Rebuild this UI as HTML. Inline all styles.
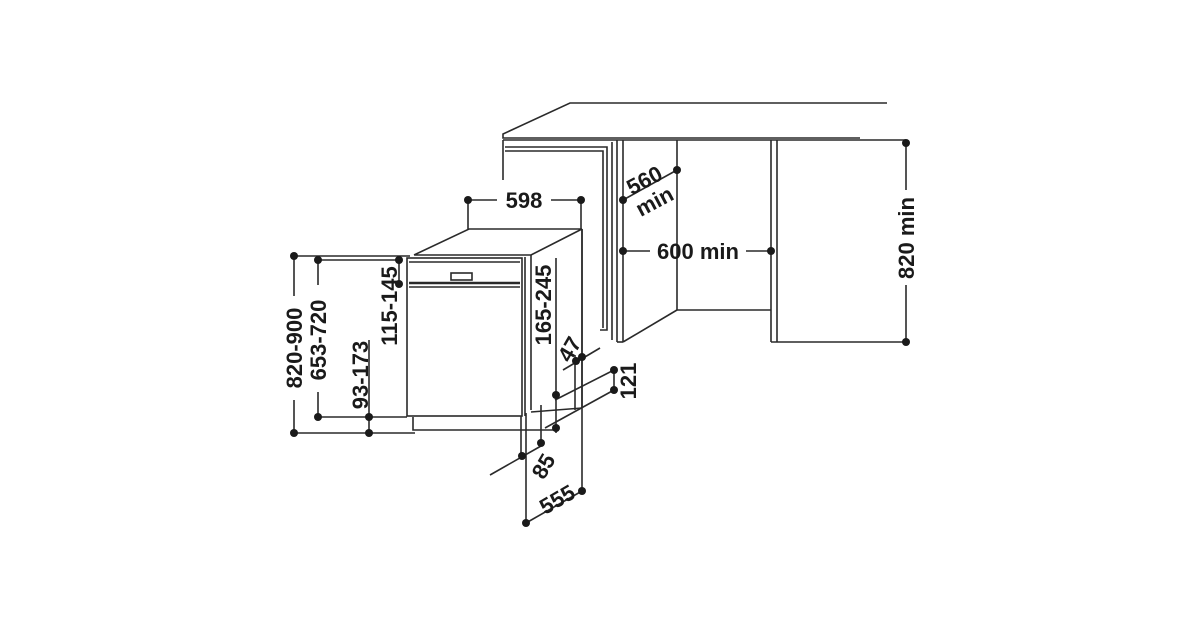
<!DOCTYPE html>
<html><head><meta charset="utf-8"><style>html,body{margin:0;background:#fff}svg{display:block}</style></head>
<body>
<svg width="1200" height="630" viewBox="0 0 1200 630" xmlns="http://www.w3.org/2000/svg">
<rect width="1200" height="630" fill="#fff"/>
<g stroke="#2a2a2a" stroke-width="1.6" fill="none">
<polyline points="887,103 570,103 503,134 503,138 860,138"/>
<line x1="503" y1="140" x2="906" y2="140"/>
<line x1="503" y1="140" x2="503" y2="180"/>
<polyline points="505,147 607,147 607,330 600,330"/>
<polyline points="505,151 603,151 603,328"/>
<line x1="612" y1="142" x2="612" y2="340"/>
<line x1="617" y1="140" x2="617" y2="342"/>
<line x1="623" y1="140" x2="623" y2="342"/>
<line x1="617" y1="342" x2="623" y2="342"/>
<line x1="677" y1="140" x2="677" y2="310"/>
<line x1="677" y1="310" x2="623" y2="342"/>
<line x1="677" y1="310" x2="771" y2="310"/>
<line x1="771" y1="140" x2="771" y2="342"/>
<line x1="777" y1="140" x2="777" y2="342"/>
<line x1="771" y1="342" x2="906" y2="342"/>
<line x1="906" y1="143" x2="906" y2="190"/>
<line x1="906" y1="285" x2="906" y2="342"/>
<line x1="623" y1="251" x2="650" y2="251"/>
<line x1="746" y1="251" x2="771" y2="251"/>
<line x1="623" y1="200" x2="677" y2="170"/>
<polyline points="414,255 469,229 582,229 531,255 414,255"/>
<line x1="582" y1="229" x2="582" y2="408"/>
<line x1="531" y1="255" x2="531" y2="410"/>
<line x1="525" y1="257" x2="525" y2="416"/>
<line x1="582" y1="408" x2="531" y2="412"/>
<rect x="407" y="258" width="115" height="158"/>
<line x1="409" y1="262" x2="520" y2="262"/>
<line x1="409" y1="283" x2="520" y2="283" stroke-width="2.5"/>
<line x1="409" y1="287" x2="520" y2="287"/>
<rect x="451" y="273" width="21" height="7"/>
<polyline points="413,417 413,430 555,430"/>
<line x1="521" y1="416" x2="521" y2="456"/>
<line x1="526" y1="413" x2="526" y2="523"/>
<line x1="541" y1="405" x2="541" y2="443"/>
<line x1="575" y1="355" x2="575" y2="410"/>
<line x1="294" y1="256" x2="410" y2="256"/>
<line x1="294" y1="433" x2="415" y2="433"/>
<line x1="318" y1="260" x2="400" y2="260"/>
<line x1="318" y1="417" x2="407" y2="417"/>
<line x1="294" y1="256" x2="294" y2="296"/>
<line x1="294" y1="400" x2="294" y2="433"/>
<line x1="318" y1="260" x2="318" y2="285"/>
<line x1="318" y1="392" x2="318" y2="417"/>
<line x1="369" y1="340" x2="369" y2="433"/>
<line x1="399" y1="260" x2="399" y2="284"/>
<line x1="556" y1="258" x2="556" y2="433"/>
<line x1="468" y1="200" x2="497" y2="200"/>
<line x1="551" y1="200" x2="581" y2="200"/>
<line x1="468" y1="200" x2="468" y2="229"/>
<line x1="581" y1="200" x2="581" y2="229"/>
<line x1="582" y1="229" x2="582" y2="491"/>
<line x1="563" y1="370" x2="600" y2="348"/>
<line x1="614" y1="370" x2="555" y2="400"/>
<line x1="614" y1="390" x2="545" y2="428"/>
<line x1="614" y1="370" x2="614" y2="390"/>
<line x1="490" y1="475" x2="541" y2="446"/>
<line x1="526" y1="523" x2="582" y2="491"/>
</g>
<g fill="#1a1a1a">
<circle cx="906" cy="143" r="4"/><circle cx="906" cy="342" r="4"/>
<circle cx="623" cy="251" r="4"/><circle cx="771" cy="251" r="4"/>
<circle cx="623" cy="200" r="4"/><circle cx="677" cy="170" r="4"/>
<circle cx="468" cy="200" r="4"/><circle cx="581" cy="200" r="4"/>
<circle cx="294" cy="256" r="4"/><circle cx="294" cy="433" r="4"/>
<circle cx="318" cy="260" r="4"/><circle cx="318" cy="417" r="4"/>
<circle cx="369" cy="417" r="4"/><circle cx="369" cy="433" r="4"/>
<circle cx="399" cy="260" r="4"/><circle cx="399" cy="284" r="4"/>
<circle cx="556" cy="395" r="4"/><circle cx="556" cy="428" r="4"/>
<circle cx="576" cy="361" r="4"/><circle cx="582" cy="357" r="4"/>
<circle cx="614" cy="370" r="4"/><circle cx="614" cy="390" r="4"/>
<circle cx="522" cy="456" r="4"/><circle cx="541" cy="443" r="4"/>
<circle cx="526" cy="523" r="4"/><circle cx="582" cy="491" r="4"/>
</g>
<g font-family="Liberation Sans, sans-serif" font-weight="bold" font-size="22" fill="#1a1a1a" text-anchor="middle">
<text x="524" y="208">598</text>
<text x="698" y="259">600 min</text>
<text transform="translate(648,187) rotate(-28)">560</text>
<text transform="translate(658,208) rotate(-28)">min</text>
<text transform="translate(914,238) rotate(-90)">820 min</text>
<text transform="translate(302,348) rotate(-90)">820-900</text>
<text transform="translate(326,340) rotate(-90)">653-720</text>
<text transform="translate(368,375) rotate(-90)">93-173</text>
<text transform="translate(397,306) rotate(-90)">115-145</text>
<text transform="translate(551,305) rotate(-90)">165-245</text>
<text transform="translate(576,353) rotate(-60)">47</text>
<text transform="translate(636,381) rotate(-90)">121</text>
<text transform="translate(550,470) rotate(-60)">85</text>
<text transform="translate(561,506) rotate(-30)">555</text>
</g>
</svg>
</body></html>
